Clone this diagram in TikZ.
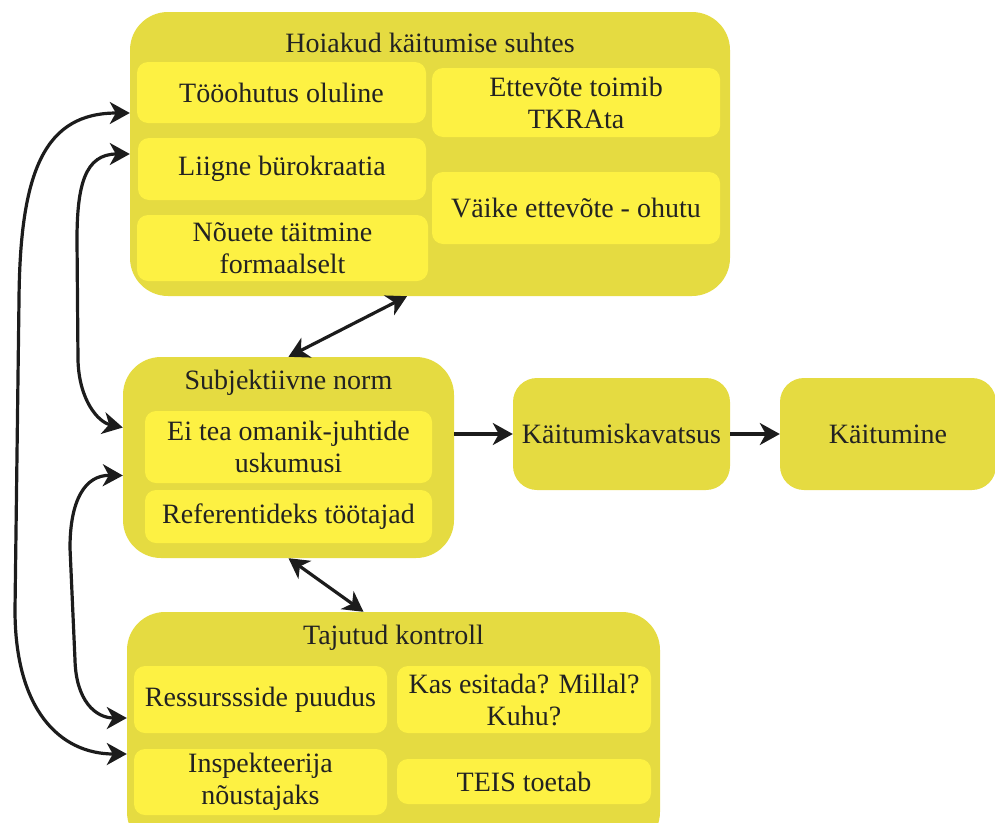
\documentclass[tikz,border=0pt]{standalone}
\usepackage{fontspec}
\setmainfont{Liberation Serif}
\usetikzlibrary{arrows.meta,calc}
\definecolor{outerY}{HTML}{E5DB41}
\definecolor{innerY}{HTML}{FDF143}
\definecolor{ink}{HTML}{222222}
\definecolor{arr}{HTML}{1C1C1C}
\tikzset{
  outerbox/.style={rectangle, rounded corners=38pt, fill=outerY, draw=none, inner sep=0pt},
  smallbox/.style={rectangle, rounded corners=24pt, fill=outerY, draw=none, inner sep=0pt, text=ink, font=\rmfamily\fontsize{28}{32}\selectfont},
  innerbox/.style={rectangle, rounded corners=11pt, fill=innerY, draw=none, inner sep=0pt, align=center, text=ink, font=\rmfamily\fontsize{28}{32}\selectfont},
  titletext/.style={text=ink, font=\rmfamily\fontsize{28}{32}\selectfont, inner sep=0pt},
  conn/.style={draw=arr, line width=3.2pt, arrows={Stealth[length=20pt,width=22pt,inset=6pt]-Stealth[length=20pt,width=22pt,inset=6pt]}},
  oneway/.style={draw=arr, line width=3.2pt, arrows={-Stealth[length=20pt,width=22pt,inset=6pt]}}
}
\begin{document}
\begin{tikzpicture}[x=1pt,y=-1pt]
\useasboundingbox (0,0) rectangle (995,822);
% containers
\node[outerbox, minimum width=600pt, minimum height=284pt] (hoi) at (430,154) {};
\node[outerbox, minimum width=331pt, minimum height=201pt] (sub) at (288.5,457.5) {};
\node[outerbox, minimum width=533pt, minimum height=238pt] (taj) at (393.5,731) {};
\node[smallbox, minimum width=217pt, minimum height=112pt] (kav) at (621.5,434) {Käitumiskavatsus};
\node[smallbox, minimum width=216pt, minimum height=112pt] (kai) at (888,434) {Käitumine};
% titles
\node[titletext] (hoiT) at (430,43) {Hoiakud käitumise suhtes};
\node[titletext] (subT) at (288.5,383) {Subjektiivne norm};
\node[titletext] (tajT) at (393.5,638) {Tajutud kontroll};
% inner boxes: attitudes
\node[innerbox, minimum width=289pt, minimum height=61pt] (t1) at (281.5,92.5) {Tööohutus oluline};
\node[innerbox, minimum width=288pt, minimum height=62pt] (t2) at (282,169) {Liigne bürokraatia};
\node[innerbox, minimum width=291pt, minimum height=66pt] (t3) at (282.5,248) {Nõuete täitmine\\formaalselt};
\node[innerbox, minimum width=288pt, minimum height=69pt] (t4) at (576,102.5) {Ettevõte toimib\\TKRAta};
\node[innerbox, minimum width=288pt, minimum height=72pt] (t5) at (576,208) {Väike ettevõte - ohutu};
% inner boxes: subjective norm
\node[innerbox, minimum width=287pt, minimum height=72pt] (s1) at (288.5,447) {Ei tea omanik-juhtide\\uskumusi};
\node[innerbox, minimum width=287pt, minimum height=53pt] (s2) at (288.5,516.5) {Referentideks töötajad};
% inner boxes: perceived control
\node[innerbox, minimum width=253pt, minimum height=67pt] (k1) at (260.5,699.5) {Ressurssside puudus};
\node[innerbox, minimum width=254pt, minimum height=67pt] (k2) at (524,699.5) {Kas esitada? Millal?\\Kuhu?};
\node[innerbox, minimum width=253pt, minimum height=66pt] (k3) at (260.5,782) {Inspekteerija\\nõustajaks};
\node[innerbox, minimum width=254pt, minimum height=45pt] (k4) at (524,781.5) {TEIS toetab};
% connectors
\draw[conn] ([yshift=41pt]hoi.west) .. controls (45,113) and (20,170) .. (19,300)
   -- (15,610) .. controls (15,710) and (60,754) .. ([yshift=-23pt]taj.west);
\draw[conn] (hoi.west) .. controls (85,154) and (77,185) .. (77,240)
   -- (78,360) .. controls (79,400) and (98,422) .. ([yshift=30pt]sub.west);
\draw[conn] ([yshift=-18pt]sub.west) .. controls (85,475) and (70,500) .. (70,548)
   -- (75,660) .. controls (76,700) and (95,718) .. ([yshift=13pt]taj.west);
\draw[conn] ([xshift=-23pt]hoi.south) -- (sub.north);
\draw[conn] (sub.south) -- ([xshift=-30pt]taj.north);
\draw[oneway] (sub.east |- kav.west) -- (kav.west);
\draw[oneway] (kav.east) -- (kai.west);
\end{tikzpicture}
\end{document}
